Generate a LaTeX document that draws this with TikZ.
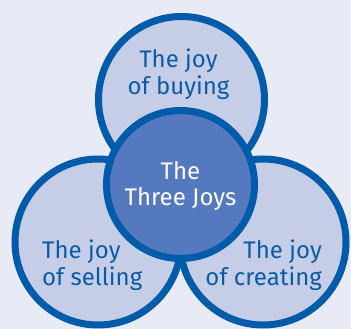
\documentclass[tikz,border=0pt]{standalone}
\usepackage{fontspec}
\setmainfont{Fira Sans}
\usepackage{tikz}
\usetikzlibrary{positioning}

\definecolor{joybg}{RGB}{232,234,246}
\definecolor{joyfill}{RGB}{197,205,231}
\definecolor{joyline}{RGB}{0,91,170}
\definecolor{joymid}{RGB}{84,121,191}
\definecolor{joytext}{RGB}{11,92,168}

\begin{document}
\begin{tikzpicture}[x=1pt, y=-1pt,
  joy/.style={circle, draw=joyline, line width=7pt, fill=joyfill,
    inner sep=0pt, minimum size=166pt},
  hub/.style={joy, fill=joymid, minimum size=148pt},
  joylabel/.style={inner sep=0pt, text=joytext, font=\fontsize{24}{26.5}\selectfont}]
  \useasboundingbox (0,0) rectangle (351,329);
  \fill[joybg] (0,0) rectangle (351,329);

  \node[joy] (selling) at (98,242) {};
  \node[joy] (creating) at (263,242) {};
  \node[joy] (buying) at (181.5,99.5) {};
  \node[hub] (three) at (180.5,184.5) {};

  \node[joylabel, align=center] (buyingtxt) at (178.5,74) {The joy\\of buying};
  \node[joylabel, align=left, anchor=west] (sellingtxt) at (42,265) {The joy\\of selling};
  \node[joylabel, align=right, anchor=east] (creatingtxt) at (322,265) {The joy\\of creating};
  \node[joylabel, align=center, text=white] (threetxt) at (180.5,186) {The\\Three Joys};
\end{tikzpicture}
\end{document}
